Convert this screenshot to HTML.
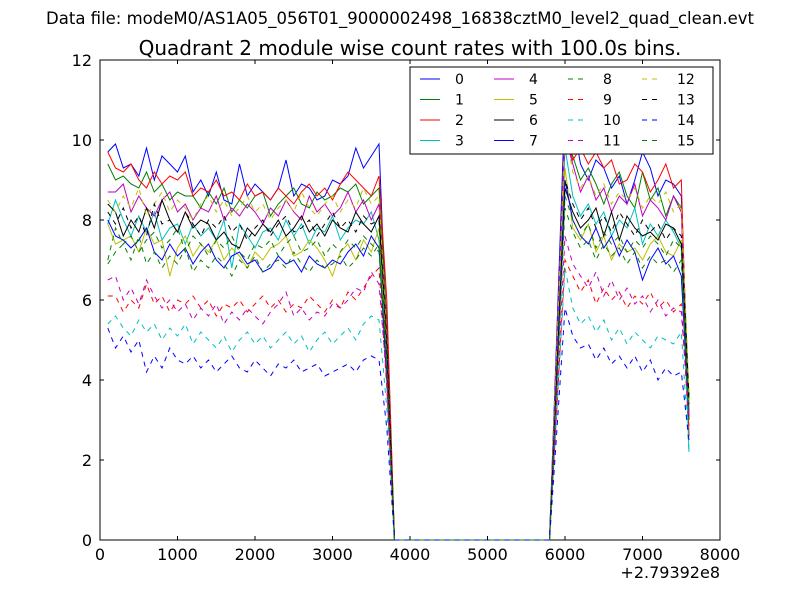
<!DOCTYPE html>
<html><head><meta charset="utf-8"><style>
body{margin:0;background:#fff;font-family:"Liberation Sans","DejaVu Sans",sans-serif}
svg text{font-family:"DejaVu Sans","Liberation Sans",sans-serif}
</style></head><body>
<svg id="chart" width="800" height="600" xmlns="http://www.w3.org/2000/svg">
<rect width="800" height="600" fill="#fff"/>
<text x="400" y="24" text-anchor="middle" font-size="16.5">Data file: modeM0/AS1A05_056T01_9000002498_16838cztM0_level2_quad_clean.evt</text>
<text x="410" y="55" text-anchor="middle" font-size="20">Quadrant 2 module wise count rates with 100.0s bins.</text>
<g id="plot"></g>
<text x="720" y="578" text-anchor="end" font-size="16">+2.79392e8</text>
</svg>
<script>
const seg1 = [
[9.7,9.9,9.3,9.4,9.1,9.8,9.0,9.6,9.4,9.2,9.6,8.7,9.0,8.6,9.2,8.5,8.4,9.4,8.6,8.9,8.7,8.5,8.8,9.5,8.6,8.9,8.8,8.5,8.6,9.0,8.9,9.1,9.8,9.3,9.6,9.9,5.0],
[9.4,9.0,9.1,8.9,8.8,9.2,8.7,8.9,8.5,8.7,8.6,8.6,8.3,8.7,8.4,8.8,8.2,8.5,8.3,8.6,8.7,8.1,8.4,8.6,8.8,8.4,8.3,8.7,8.5,8.6,8.8,8.7,8.9,8.4,8.6,8.8,5.5],
[9.7,9.3,9.2,9.4,9.0,8.8,9.2,8.9,9.1,9.0,9.2,8.6,8.8,8.7,9.0,8.6,8.7,8.5,8.9,8.6,8.7,8.5,8.8,8.6,8.4,8.7,8.9,8.6,8.8,8.5,8.9,9.2,9.0,8.8,8.6,9.1,6.0],
[7.9,8.5,8.0,7.6,8.1,7.7,8.2,7.5,7.8,7.9,7.4,7.9,7.6,7.8,7.5,8.0,6.8,7.9,7.6,7.3,7.7,7.8,7.5,8.0,7.6,7.9,7.4,7.8,7.7,8.1,7.5,7.8,8.0,7.9,8.2,7.5,4.5],
[8.7,8.7,8.9,8.2,8.6,8.3,8.1,8.5,8.7,8.2,8.4,8.0,8.3,8.2,8.6,8.0,8.3,8.1,8.4,8.2,7.9,8.3,8.1,8.5,8.2,8.0,8.6,8.2,8.4,8.1,8.3,8.7,8.2,8.5,8.0,8.4,5.2],
[7.9,7.4,7.5,7.6,7.2,7.8,7.4,7.5,6.6,7.3,7.6,7.1,7.4,7.2,7.5,7.0,7.3,7.1,6.8,7.2,7.0,7.3,7.4,7.6,7.1,7.2,7.5,7.3,7.0,6.6,7.2,7.4,7.0,7.5,7.2,7.8,4.8],
[8.4,8.2,7.6,8.0,7.7,8.3,7.8,8.5,8.0,7.7,8.2,7.8,8.0,7.9,7.5,7.7,7.4,7.3,7.8,7.6,7.9,7.7,8.0,7.6,7.8,8.1,7.7,7.9,7.6,8.0,7.8,7.7,8.2,7.9,7.7,8.1,5.0],
[8.0,7.6,7.5,7.3,7.5,7.8,7.2,7.0,7.4,7.1,7.3,6.9,7.2,7.4,7.0,6.8,7.1,7.2,6.9,7.0,6.7,6.8,7.1,6.9,7.0,6.7,7.1,6.9,6.8,7.0,6.9,7.2,7.4,7.1,7.6,7.3,4.0],
[7.0,7.8,7.4,7.6,7.2,7.5,7.7,7.3,7.5,7.8,7.2,7.6,7.4,7.1,7.5,7.3,7.6,7.2,7.0,7.4,7.3,7.5,7.1,7.4,7.6,7.2,7.3,7.5,7.1,7.4,7.2,7.5,7.3,7.6,7.4,7.2,4.5],
[6.1,6.1,5.7,6.0,5.8,6.4,5.9,6.1,5.7,6.0,5.9,6.1,5.8,6.0,5.6,5.9,5.8,6.0,5.7,5.9,6.1,5.8,6.0,5.7,5.9,5.8,6.1,5.9,5.7,6.0,5.8,6.2,6.0,6.3,6.6,6.8,3.8],
[5.4,5.6,5.3,5.1,5.5,5.2,5.4,5.0,5.3,5.1,5.4,4.9,5.2,5.0,4.8,5.1,4.7,5.0,5.2,4.9,5.1,4.8,5.0,5.2,4.9,5.1,4.7,5.0,5.2,4.9,5.1,5.3,5.0,5.4,5.6,5.5,3.3],
[6.5,6.6,6.0,6.3,5.9,6.5,6.1,5.8,6.0,5.7,5.9,5.5,5.8,5.6,5.9,5.4,5.7,5.5,5.8,5.6,5.4,5.7,5.9,6.2,5.6,5.8,5.5,5.7,5.6,5.9,5.8,6.0,6.3,6.2,6.7,6.4,4.0],
[8.5,8.2,8.6,8.3,8.8,8.1,8.4,8.7,8.2,8.5,8.3,8.0,8.4,8.6,8.2,8.5,8.1,8.3,8.6,8.2,8.4,8.0,8.3,8.5,8.2,8.7,8.3,8.1,8.4,8.6,8.2,8.5,8.3,8.8,8.4,8.6,5.0],
[8.2,7.9,8.3,7.8,8.1,7.6,8.4,7.9,8.0,7.7,8.2,7.9,7.6,8.0,7.8,8.1,7.7,7.9,7.5,7.8,8.0,7.6,7.9,8.1,7.7,7.8,8.0,7.6,7.9,8.2,7.8,8.0,7.7,8.1,7.9,8.0,4.8],
[5.3,4.8,5.1,4.7,5.0,4.2,4.6,4.3,4.8,4.5,4.4,4.6,4.3,4.5,4.2,4.4,4.6,4.3,4.2,4.5,4.3,4.1,4.4,4.3,4.5,4.2,4.3,4.4,4.1,4.2,4.3,4.4,4.2,4.5,4.6,4.5,2.8],
[6.9,7.2,7.4,7.0,7.6,6.9,7.2,6.8,7.1,6.9,7.3,6.7,7.0,6.8,7.1,6.9,6.6,7.0,6.8,7.1,6.7,6.9,7.0,6.8,7.2,6.9,6.7,7.0,6.8,6.9,7.1,6.8,7.0,7.3,7.1,7.4,4.4]
];
const seg2 = [
[5.5,11.0,10.5,9.4,9.0,9.5,9.3,8.8,9.1,8.4,9.0,9.7,9.3,8.6,9.0,8.9,8.6,3.0],
[5.0,10.0,9.6,9.0,9.3,8.9,8.4,8.9,9.2,8.6,8.3,9.2,8.5,8.8,8.1,8.6,8.3,3.5],
[5.1,10.2,9.5,9.8,9.4,9.7,9.3,9.5,8.9,9.0,9.4,9.2,8.7,9.0,9.4,8.8,9.0,2.6],
[4.9,9.8,8.6,8.1,8.4,7.9,8.2,7.6,8.0,7.8,8.3,7.4,7.9,7.6,8.0,7.7,7.3,2.2],
[5.0,10.1,9.4,8.7,9.1,8.5,8.8,8.2,8.6,8.4,8.9,8.1,8.5,8.3,8.0,8.6,8.2,3.2],
[4.6,9.3,7.8,7.5,7.9,7.2,7.6,7.0,7.4,7.2,7.3,7.0,7.4,7.6,7.2,7.1,7.5,3.4],
[4.4,8.8,8.2,7.8,8.0,8.3,7.6,8.2,7.5,8.1,7.8,7.6,7.7,7.5,7.9,7.8,7.4,3.6],
[4.5,9.0,8.0,7.6,7.4,7.8,7.3,7.6,7.1,7.5,7.2,6.5,7.0,7.3,6.9,7.1,6.6,3.0],
[4.3,8.6,8.0,7.6,7.9,7.3,7.7,7.4,7.6,7.2,7.5,7.3,7.6,7.4,7.1,7.5,7.3,3.3],
[3.5,7.0,6.6,6.2,6.5,5.9,6.3,6.0,6.2,5.8,6.1,5.9,6.2,5.8,6.0,5.7,5.9,2.8],
[3.4,6.8,5.8,5.4,5.6,5.2,5.5,5.0,5.3,4.9,5.2,5.0,4.8,5.1,5.0,4.9,5.2,2.2],
[3.8,7.6,6.9,6.6,6.3,6.7,6.1,6.5,6.0,6.3,5.9,6.1,5.7,6.0,5.6,5.8,5.7,3.1],
[5.1,10.3,9.2,8.8,9.1,8.6,8.9,8.4,8.7,8.5,8.8,8.3,8.6,8.4,8.7,8.2,8.4,3.7],
[4.5,9.0,8.4,8.0,8.3,7.8,8.1,7.7,8.2,7.9,7.6,8.0,7.7,7.9,7.5,7.8,7.6,3.4],
[2.9,5.8,5.1,4.8,4.9,4.5,4.8,4.4,4.6,4.3,4.6,4.2,4.5,4.0,4.3,4.1,4.2,2.5],
[4.1,8.3,7.7,7.3,7.5,7.0,7.4,7.1,7.3,6.9,7.2,6.8,7.1,6.9,7.0,6.7,7.0,3.0]
];
const gapCount = 21;
const seriesNames = ["0","1","2","3","4","5","6","7","8","9","10","11","12","13","14","15"];
const colors = ["#0000ff","#008000","#ff0000","#00bfbf","#bf00bf","#bfbf00","#000000","#0000ff","#008000","#ff0000","#00bfbf","#bf00bf","#bfbf00","#000000","#0000ff","#008000"];
const xTicks = [0,1000,2000,3000,4000,5000,6000,7000,8000];
const yTicks = [0,2,4,6,8,10,12];

const X0=100,X1=720,Y0=540,Y1=60;
const xs = v => X0 + v/8000*(X1-X0);
const ys = v => Y0 - v/12*(Y0-Y1);
const NS="http://www.w3.org/2000/svg";
const g=document.getElementById('plot');
function mk(t,a){const e=document.createElementNS(NS,t);for(const k in a)e.setAttribute(k,a[k]);return e;}

const frame=mk('rect',{x:X0,y:Y1,width:X1-X0,height:Y0-Y1,fill:'none',stroke:'#000','stroke-width':1});


g.appendChild(frame);
const clip=mk('clipPath',{id:'pc'});clip.appendChild(mk('rect',{x:X0,y:Y1,width:X1-X0,height:Y0-Y1+1}));g.appendChild(clip);
const lines=mk('g',{'clip-path':'url(#pc)'});g.appendChild(lines);
for(let s=0;s<16;s++){
  const vals=seg1[s].concat(new Array(gapCount).fill(0),seg2[s]);
  const pts=vals.map((v,i)=>xs(100*(i+1)).toFixed(1)+','+ys(v).toFixed(1)).join(' ');
  const pl=mk('polyline',{points:pts,fill:'none',stroke:colors[s],'stroke-width':1});
  if(s>=8)pl.setAttribute('stroke-dasharray','5,5');
  
  
  lines.appendChild(pl);
}
xTicks.forEach(t=>{
  const x=xs(t);
  g.appendChild(mk('line',{x1:x,x2:x,y1:Y0,y2:Y0-4,stroke:'#000'}));
  g.appendChild(mk('line',{x1:x,x2:x,y1:Y1,y2:Y1+4,stroke:'#000'}));
  const tx=mk('text',{x:x,y:Y0+20,'text-anchor':'middle','font-size':16});tx.textContent=t;
  
  
  g.appendChild(tx);
});
yTicks.forEach(t=>{
  const y=ys(t);
  g.appendChild(mk('line',{x1:X0,x2:X0+4,y1:y,y2:y,stroke:'#000'}));
  g.appendChild(mk('line',{x1:X1,x2:X1-4,y1:y,y2:y,stroke:'#000'}));
  const tx=mk('text',{x:X0-8,y:y+6,'text-anchor':'end','font-size':16});tx.textContent=t;
  
  
  g.appendChild(tx);
});
const leg=mk('g',{});


g.appendChild(leg);
leg.appendChild(mk('rect',{x:410,y:67,width:303,height:87,fill:'#fff',stroke:'#000','stroke-width':1}));
const colX=[420,494,568,642];
for(let s=0;s<16;s++){
  const c=Math.floor(s/4),r=s%4;
  const x=colX[c],y=79+r*20.5;
  const ln=mk('line',{x1:x,x2:x+20,y1:y,y2:y,stroke:colors[s]});
  if(s>=8)ln.setAttribute('stroke-dasharray','5,5');
  leg.appendChild(ln);
  const tx=mk('text',{x:x+35,y:y+5,'font-size':14});tx.textContent=seriesNames[s];
  
  
  leg.appendChild(tx);
}
</script>
</body></html>
